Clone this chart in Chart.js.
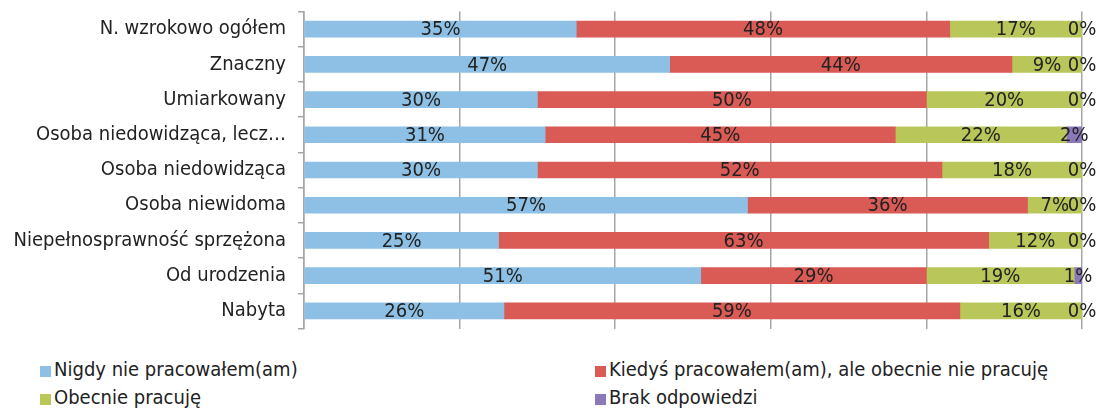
<!DOCTYPE html>
<html>
<head>
<meta charset="utf-8">
<script src="https://cdn.jsdelivr.net/npm/chart.js@4/dist/chart.umd.min.js"></script>
<style>
  html, body { margin: 0; padding: 0; background: #fff; }
  #wrap { position: relative; width: 1100px; height: 410px; }
  #box { position: absolute; left: 0; top: 0; width: 1100px; height: 340px; }
  .legend { position: absolute; font: 20px "DejaVu Sans Condensed", "Liberation Sans Narrow", sans-serif; color: #222; white-space: nowrap; }
  .legend i { display: inline-block; width: 11px; height: 11px; margin-right: 3px; vertical-align: -1px; }
</style>
</head>
<body>
<div id="wrap">
  <div id="box"><canvas id="chart"></canvas></div>
  <div id="legend"></div>
</div>
<script>
// kategorie i dane (%)
const categories = ['N. wzrokowo ogółem', 'Znaczny', 'Umiarkowany', 'Osoba niedowidząca, lecz…',
    'Osoba niedowidząca', 'Osoba niewidoma', 'Niepełnosprawność sprzężona', 'Od urodzenia', 'Nabyta'];
const seriesNames = ['Nigdy nie pracowałem(am)', 'Kiedyś pracowałem(am), ale obecnie nie pracuję',
    'Obecnie pracuję', 'Brak odpowiedzi'];
const nigdy   = [35, 47, 30, 31, 30, 57, 25, 51, 25.7];
const kiedys  = [48, 44, 50, 45, 52, 36, 63, 29, 58.6];
const obecnie = [17, 9, 20, 22, 18, 7, 12, 19, 15.7];
const brak    = [0, 0, 0, 2, 0, 0, 0, 1, 0];
const colors = ['#8DC0E4', '#DA5A55', '#B8C65A', '#8A78B8'];
const xTicks = [0, 20, 40, 60, 80, 100];

const FONT = '"DejaVu Sans Condensed", "Liberation Sans Narrow", sans-serif';

// etykiety wartości na środku segmentu
const valueLabels = {
    id: 'valueLabels',
    afterDatasetsDraw(chart) {
        const ctx = chart.ctx;
        ctx.save();
        ctx.font = '20px ' + FONT;
        ctx.fillStyle = '#222';
        ctx.textAlign = 'center';
        ctx.textBaseline = 'middle';
        chart.data.datasets.forEach((ds, i) => {
            chart.getDatasetMeta(i).data.forEach((el, j) => {
                const x = (el.x + el.base) / 2;
                ctx.fillText(Math.round(ds.data[j]) + '%', x, el.y + 1);
            });
        });
        ctx.restore();
    }
};

const allSeries = [nigdy, kiedys, obecnie, brak];

new Chart(document.getElementById('chart'), {
    type: 'bar',
    data: {
        labels: categories,
        datasets: allSeries.map((d, i) => ({
            label: seriesNames[i],
            data: d,
            backgroundColor: colors[i],
            barThickness: 16
        }))
    },
    options: {
        indexAxis: 'y',
        responsive: true,
        maintainAspectRatio: false,
        animation: false,
        layout: { padding: { top: 11.5, right: 18, left: 0, bottom: 0 } },
        scales: {
            x: {
                stacked: true,
                min: 0,
                max: 100,
                afterBuildTicks: s => { s.ticks = xTicks.map(v => ({ value: v })); },
                afterFit: s => { s.height = 11.5; s.paddingLeft = 0; s.paddingRight = 0; },
                ticks: { display: false },
                grid: { color: '#A6A6A6', lineWidth: 1.5, drawTicks: false },
                border: { display: false }
            },
            y: {
                stacked: true,
                afterFit: s => { s.width = 304; s.paddingTop = 0; s.paddingBottom = 0; },
                ticks: { color: '#222', font: { family: FONT, size: 20 }, padding: 12, autoSkip: false },
                grid: { drawOnChartArea: false, color: '#A6A6A6', tickLength: 6, lineWidth: 1.5 },
                border: { color: '#A6A6A6', width: 1.5 }
            }
        },
        plugins: {
            legend: { display: false },
            tooltip: { enabled: false }
        }
    },
    plugins: [valueLabels]
});

// legenda w dwóch kolumnach
const legendPos = [[40, 357], [595, 357], [40, 385], [595, 385]];
const legend = document.getElementById('legend');
seriesNames.forEach((name, i) => {
    const el = document.createElement('div');
    el.className = 'legend';
    el.style.left = legendPos[i][0] + 'px';
    el.style.top = legendPos[i][1] + 'px';
    el.innerHTML = '<i style="background:' + colors[i] + '"></i>' + name;
    legend.appendChild(el);
});
</script>
</body>
</html>
